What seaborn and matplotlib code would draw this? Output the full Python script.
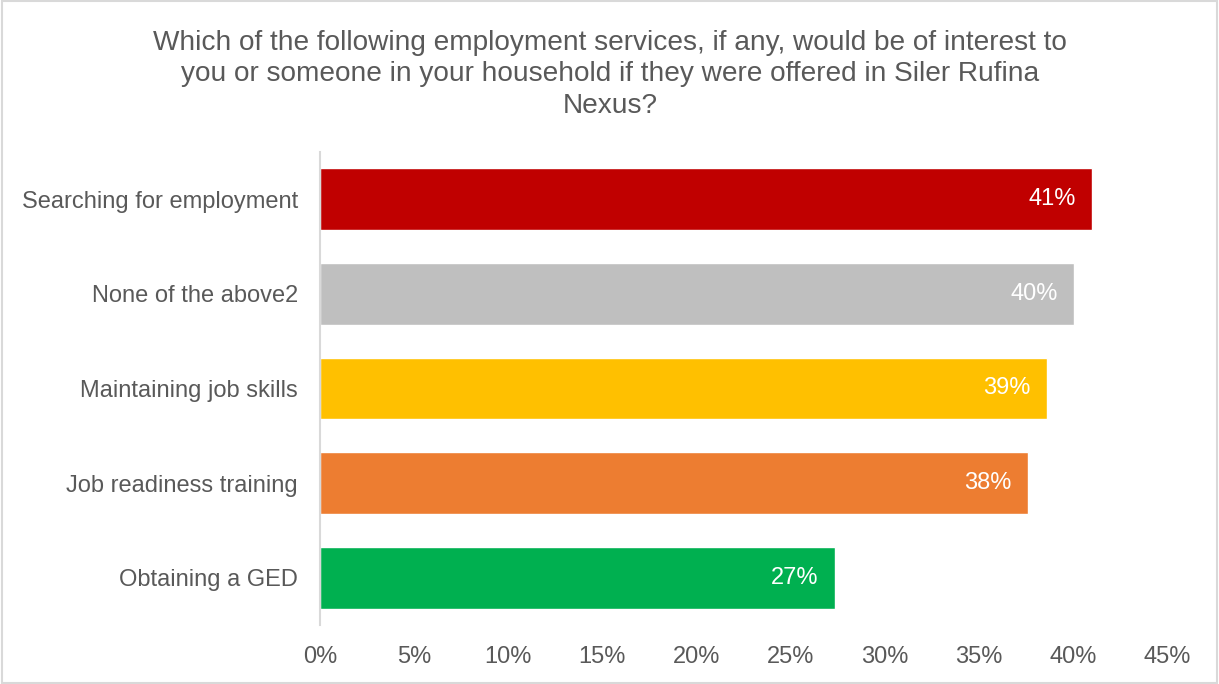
import matplotlib
matplotlib.use("Agg")
import matplotlib.pyplot as plt
import seaborn as sns
import pandas as pd

categories = [
    "Searching for employment",
    "None of the above2",
    "Maintaining job skills",
    "Job readiness training",
    "Obtaining a GED",
]
shares = [41.0, 40.05, 38.6, 37.6, 27.35]
bar_colors = ["#C00000", "#BFBFBF", "#FFC000", "#ED7D31", "#00B050"]
tick_values = [0, 5, 10, 15, 20, 25, 30, 35, 40, 45]
title_text = ("Which of the following employment services, if any, would be of interest to\n"
              "you or someone in your household if they were offered in Siler Rufina\n"
              "Nexus?")

sns.set_theme(style="white")
plt.rcParams["font.family"] = ["Liberation Sans", "DejaVu Sans"]

text_gray = "#595959"
df = pd.DataFrame({"service": categories, "share": shares})

fig = plt.figure(figsize=(12.19, 6.84), dpi=100)
ax = fig.add_axes([320 / 1219, 1 - 625 / 684, (1167 - 320) / 1219, (625 - 152) / 684])

sns.barplot(data=df, x="share", y="service", hue="service", palette=bar_colors,
            order=categories, hue_order=categories, orient="h", width=0.655,
            legend=False, ax=ax, saturation=1)

for patch, val in zip(ax.patches, shares):
    y = patch.get_y() + patch.get_height() / 2
    ax.annotate(f"{round(val):d}%", xy=(patch.get_x() + patch.get_width(), y),
                xytext=(-16, 0), textcoords="offset pixels",
                ha="right", va="center", color="white", fontsize=17)

ax.set_xlim(0, 45)
ax.set_xticks(tick_values)
ax.set_xticklabels([f"{v}%" for v in tick_values])
ax.set_xlabel("")
ax.set_ylabel("")
ax.tick_params(axis="x", colors=text_gray, labelsize=17, length=0, pad=15)
ax.tick_params(axis="y", colors=text_gray, labelsize=17, length=0, pad=16)
for lbl in ax.get_xticklabels() + ax.get_yticklabels():
    lbl.set_color(text_gray)

for side in ["top", "right", "bottom"]:
    ax.spines[side].set_visible(False)
ax.spines["left"].set_color("#D9D9D9")
ax.spines["left"].set_linewidth(1.5)
ax.grid(False)

fig.text(610 / 1219, 1 - 29.5 / 684, title_text, ha="center", va="top",
         fontsize=20.2, color=text_gray, linespacing=1.28)

# thin frame around the whole chart area
border = plt.Rectangle((0.002, 0.002), 0.996, 0.996, transform=fig.transFigure,
                       fill=False, edgecolor="#D9D9D9", linewidth=1.5)
fig.patches.append(border)

fig.savefig("out.png", dpi=100, facecolor="white")
